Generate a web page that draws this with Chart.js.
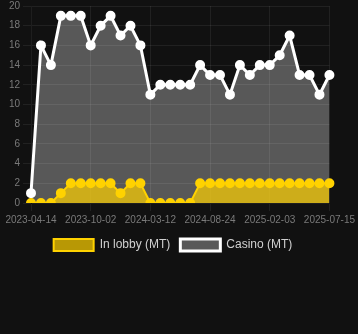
<!DOCTYPE html>
<html>
<head>
<meta charset="utf-8">
<script src="https://cdn.jsdelivr.net/npm/chart.js@4.4.0/dist/chart.umd.min.js"></script>
<style>
  html, body { margin: 0; padding: 0; background: #111111; }
  #wrap { width: 358px; height: 261px; }
</style>
</head>
<body>
<div id="wrap"><canvas id="chart"></canvas></div>
<script>
const dates = [
  '2023-04-14', '2023-05-12', '2023-06-09', '2023-07-08', '2023-08-05', '2023-09-03',
  '2023-10-02', '2023-10-29', '2023-11-25', '2023-12-22', '2024-01-18', '2024-02-14',
  '2024-03-12', '2024-04-08', '2024-05-06', '2024-06-02', '2024-06-30', '2024-07-27',
  '2024-08-24', '2024-09-20', '2024-10-17', '2024-11-13', '2024-12-10', '2025-01-07',
  '2025-02-03', '2025-03-02', '2025-03-29', '2025-04-25', '2025-05-22', '2025-06-18',
  '2025-07-15'
];
const inLobby = [0, 0, 0, 1, 2, 2, 2, 2, 2, 1, 2, 2, 0, 0, 0, 0, 0, 2, 2, 2, 2, 2, 2, 2, 2, 2, 2, 2, 2, 2, 2];
const casino = [1, 16, 14, 19, 19, 19, 16, 18, 19, 17, 18, 16, 11, 12, 12, 12, 12, 14, 13, 13, 11, 14, 13, 14, 14, 15, 17, 13, 13, 11, 13];
const yTicks = [0, 2, 4, 6, 8, 10, 12, 14, 16, 18, 20];

// legend sits a little left of centre in the original
const legendShift = {
    id: 'legendShift',
    afterLayout: function(chart) {
        chart.legend.left -= 6;
        chart.legend.right -= 6;
    }
};

document.addEventListener("DOMContentLoaded", function() {
    const ctx = document.getElementById('chart').getContext('2d');
    new Chart(ctx, {
        type: 'line',
        data: {
            labels: dates,
            datasets: [{
                label: 'In lobby (MT)',
                data: inLobby,
                borderColor: '#ffd200',
                backgroundColor: 'rgba(255, 210, 0, 0.7)',
                pointBackgroundColor: '#ffd200',
                pointBorderColor: '#ffd200',
                borderWidth: 2,
                pointRadius: 4,
                pointBorderWidth: 2,
                tension: 0,
                fill: 'origin'
            }, {
                label: 'Casino (MT)',
                data: casino,
                borderColor: '#ffffff',
                backgroundColor: 'rgba(255, 255, 255, 0.3)',
                pointBackgroundColor: '#ffffff',
                pointBorderColor: '#ffffff',
                borderWidth: 3,
                pointRadius: 4,
                pointBorderWidth: 2,
                tension: 0,
                fill: 'origin'
            }]
        },
        options: {
            responsive: true,
            maintainAspectRatio: false,
            animation: false,
            scales: {
                x: {
                    ticks: {
                        maxRotation: 0,
                        color: '#7a7a7a',
                        font: { size: 10 }
                    },
                    grid: { color: 'rgba(255,255,255,0.07)' }
                },
                y: {
                    min: 0,
                    max: 20,
                    afterBuildTicks: function(axis) {
                        axis.ticks = yTicks.map(v => ({ value: v }));
                    },
                    afterFit: function(axis) {
                        axis.width = 31;
                        axis.paddingTop = 5;
                    },
                    ticks: {
                        color: '#7a7a7a',
                        font: { size: 10 }
                    },
                    grid: { color: 'rgba(255,255,255,0.07)' }
                }
            },
            plugins: {
                legend: {
                    position: 'bottom',
                    labels: {
                        color: '#d0d0d0',
                        font: { size: 12 },
                        boxWidth: 40,
                        boxHeight: 12
                    }
                }
            }
        },
        plugins: [legendShift]
    });
});
</script>
</body>
</html>
